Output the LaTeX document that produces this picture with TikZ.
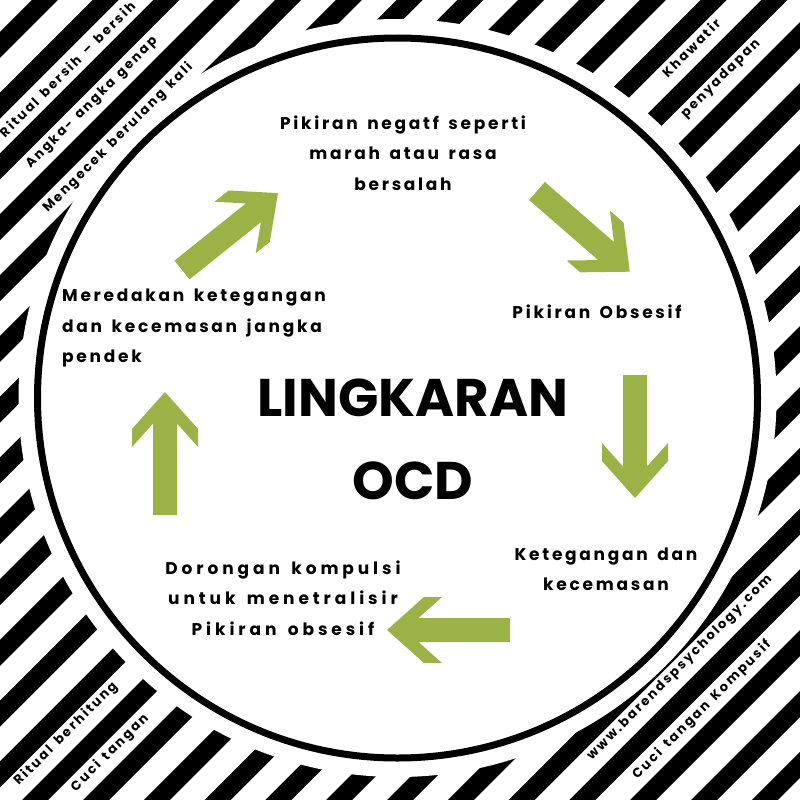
\documentclass[tikz,border=0pt]{standalone}
\usepackage{fontspec}
\setmainfont{Poppins}
\newfontfamily\spaced{Poppins}[LetterSpace=16,WordSpace=1.5]
\newfontfamily\spacedwide{Poppins}[LetterSpace=23,WordSpace=1.5]
\definecolor{arrowgreen}{RGB}{155,178,70}
\tikzset{
  lbl/.style={font=\spaced\bfseries\fontsize{17}{30.5}\selectfont, align=center, text=black, inner sep=0},
  lblwide/.style={lbl, font=\spacedwide\bfseries\fontsize{17}{30.5}\selectfont},
  side/.style={font=\spaced\bfseries\fontsize{13}{15}\selectfont, rotate=45, text=black, inner sep=0},
  title/.style={font=\bfseries\fontsize{53}{60}\selectfont, text=black, inner sep=0},
  garrow/.style={fill=arrowgreen}
}
\newcommand{\greenarrow}[4]{% name, tail x, tail y, angle
  \begin{scope}[shift={(#2,#3)}, rotate=#4]
    \fill[garrow] (0,12) -- (91.5,12) -- (68,33) -- (86,33) -- (123,0) -- (86,-33) -- (68,-33) -- (91.5,-12) -- (0,-12) -- cycle;
    \coordinate (#1) at (61,0);
  \end{scope}}
\begin{document}
\begin{tikzpicture}[x=1pt,y=-1pt]
\useasboundingbox (0,0) rectangle (800,800);
\fill[white] (0,0) rectangle (800,800);
\begin{scope}
  \clip (0,0) rectangle (800,800);
  \foreach \k in {-3,...,26}{
    \pgfmathsetmacro\sa{166.4+60.8*\k-13}
    \pgfmathsetmacro\sb{166.4+60.8*\k+13}
    \fill[black] ({\sa+100},-100) -- ({\sb+100},-100) -- ({\sb-900},900) -- ({\sa-900},900) -- cycle;
  }
\end{scope}
\fill[white] (397.5,398) circle (379pt);
\draw[line width=7pt] (397.5,398) circle (360pt);

% corner texts
\node[side] (t1) at (67,69) {Ritual bersih – bersih};
\node[side] (t2) at (92,103) {Angka- angka genap};
\node[side] (t3) at (118,138) {Mengecek berulang kali};
\node[side] (t4) at (691,48) {Khawatir};
\node[side] (t5) at (721,79) {penyadapan};
\node[side] (t6) at (66,734) {Ritual berhitung};
\node[side] (t7) at (110,753) {Cuci tangan};
\node[side] (t8) at (680,668) {www.barendspsychology.com};
\node[side] (t9) at (702,710) {Cuci tangan Kompusif};

% cycle texts
\node[lbl] (c1) at (403,153) {Pikiran negatf seperti\\marah atau rasa\\bersalah};
\node[lbl] (c2) at (597,312) {Pikiran Obsesif};
\node[lbl] (c3) at (606,569.5) {Ketegangan dan\\kecemasan};
\node[lblwide] (c4) at (283,598) {Dorongan kompulsi\\untuk menetralisir\\Pikiran obsesif};
\node[lbl, align=left, anchor=west] (c5) at (62,328) {Meredakan ketegangan\\dan kecemasan jangka\\pendek};

\node[title] (l1) at (413,398) {LINGKARAN};
\node[title] (l2) at (413,481) {OCD};

% arrows
\greenarrow{a1}{182}{270}{38.7}
\greenarrow{a2}{537}{191}{-41}
\greenarrow{a3}{635}{375}{-90}
\greenarrow{a4}{510}{630}{180}
\greenarrow{a5}{165}{515}{90}
\end{tikzpicture}
\end{document}
